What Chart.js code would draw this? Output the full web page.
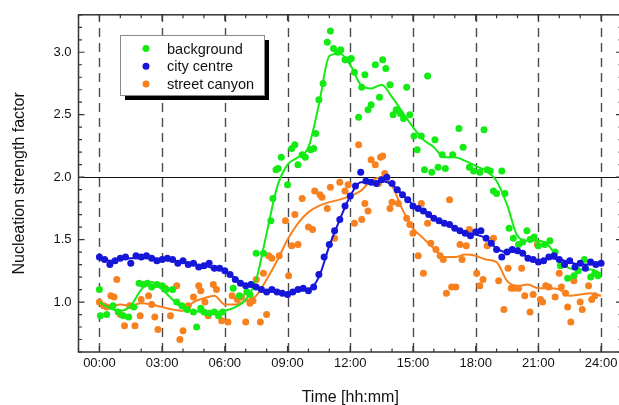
<!DOCTYPE html>
<html>
<head>
<meta charset="utf-8">
<script src="https://cdn.jsdelivr.net/npm/chart.js@4.4.1/dist/chart.umd.min.js"></script>
<style>
  html, body { margin: 0; padding: 0; overflow: hidden; background: #fff; }
  canvas { display: block; }
</style>
</head>
<body>
<canvas id="myChart" width="640" height="405"></canvas>
<script>
// axis ticks
const xTickValues = [0, 3, 6, 9, 12, 15, 18, 21, 24];
const xTickLabels = ["00:00", "03:00", "06:00", "09:00", "12:00", "15:00", "18:00", "21:00", "24:00"];
const yTickValues = [1.0, 1.5, 2.0, 2.5, 3.0];
const yTickLabels = ["1.0", "1.5", "2.0", "2.5", "3.0"];
const seriesNames = ["background", "city centre", "street canyon"];

// background (green) measurements
const bgHours = [0.0, 0.05, 0.35, 0.65, 0.9, 1.15, 1.4, 1.65, 1.9, 2.1, 2.3, 2.5, 2.75, 3.0, 3.2, 3.5, 3.7, 3.95, 4.2, 4.5,
  4.65, 4.85, 5.0, 5.25, 5.5, 5.7, 5.9, 6.4, 6.7, 7.05, 7.2, 7.5, 7.85, 8.2, 8.3, 8.45, 8.55, 8.7, 9.0, 9.2,
  9.35, 9.5, 9.7, 9.85, 10.1, 10.25, 10.35, 10.5, 10.7, 10.9, 11.05, 11.2, 11.4, 11.55, 11.75, 11.9, 12.05, 12.2, 12.4, 12.55,
  12.7, 12.85, 13.0, 13.2, 13.4, 13.55, 13.7, 13.9, 14.05, 14.2, 14.4, 14.55, 14.7, 14.85, 15.05, 15.2, 15.4, 15.55, 15.7, 15.9,
  16.05, 16.2, 16.4, 16.55, 16.9, 17.2, 17.4, 17.7, 17.9, 18.2, 18.4, 18.55, 18.7, 18.85, 19.0, 19.25, 19.4, 19.6, 19.8, 20.05,
  20.25, 20.45, 20.6, 20.8, 21.0, 21.3, 21.55, 21.8, 22.05, 22.4, 22.7, 22.9, 23.2, 23.5, 23.7, 23.85];
const bgValues = [1.10, 0.89, 0.90, 0.97, 0.92, 0.89, 0.88, 0.96, 1.15, 1.14, 1.15, 1.12, 1.14, 1.13, 1.10, 1.10, 1.00, 0.97, 0.94, 0.92,
  0.80, 0.95, 0.92, 0.91, 0.92, 0.89, 0.92, 1.11, 1.05, 1.08, 1.06, 1.39, 1.39, 1.65, 1.83, 2.06, 2.07, 2.16, 1.94, 2.23,
  2.26, 2.10, 2.18, 2.16, 2.22, 2.23, 2.35, 2.62, 2.75, 3.08, 3.17, 3.03, 3.00, 3.02, 2.94, 2.94, 2.95, 2.84, 2.48, 2.72,
  2.82, 2.54, 2.58, 2.90, 2.64, 2.94, 2.87, 2.74, 2.50, 2.54, 2.51, 2.47, 2.72, 2.50, 2.33, 2.22, 2.33, 2.06, 2.81, 2.04,
  2.30, 2.08, 2.18, 2.07, 2.18, 2.39, 2.24, 2.08, 2.05, 2.04, 2.38, 2.06, 2.05, 1.89, 1.87, 2.05, 1.87, 1.59, 1.51, 1.46,
  1.48, 1.57, 1.50, 1.52, 1.45, 1.46, 1.49, 1.40, 1.29, 1.19, 1.21, 1.25, 1.34, 1.20, 1.23, 1.21];

// city centre (blue) measurements
const ccHours = [0, 0.25, 0.5, 0.75, 1, 1.25, 1.5, 1.75, 2, 2.25, 2.5, 2.75, 3, 3.25, 3.5, 3.75, 4, 4.25, 4.5, 4.75,
  5, 5.25, 5.5, 5.75, 6, 6.25, 6.5, 6.75, 7, 7.25, 7.5, 7.75, 8, 8.25, 8.5, 8.75, 9, 9.25, 9.5, 9.75,
  10, 10.25, 10.5, 10.75, 11, 11.25, 11.5, 11.75, 12, 12.25, 12.5, 12.75, 13, 13.25, 13.5, 13.75, 14, 14.25, 14.5, 14.75,
  15, 15.25, 15.5, 15.75, 16, 16.25, 16.5, 16.75, 17, 17.25, 17.5, 17.75, 18, 18.25, 18.5, 18.75, 19, 19.25, 19.5, 19.75,
  20, 20.25, 20.5, 20.75, 21, 21.25, 21.5, 21.75, 22, 22.25, 22.5, 22.75, 23, 23.25, 23.5, 23.75, 24];
const ccValues = [1.36, 1.34, 1.30, 1.33, 1.35, 1.36, 1.31, 1.37, 1.36, 1.37, 1.35, 1.33, 1.34, 1.35, 1.34, 1.31, 1.33, 1.30, 1.31, 1.28,
  1.29, 1.31, 1.27, 1.27, 1.25, 1.22, 1.18, 1.15, 1.13, 1.14, 1.12, 1.10, 1.08, 1.10, 1.08, 1.07, 1.06, 1.08, 1.10, 1.11,
  1.09, 1.12, 1.22, 1.36, 1.46, 1.57, 1.66, 1.77, 1.85, 1.93, 2.04, 1.97, 1.96, 1.95, 1.98, 2.00, 1.95, 1.90, 1.86, 1.82,
  1.77, 1.75, 1.73, 1.70, 1.67, 1.65, 1.63, 1.62, 1.59, 1.57, 1.55, 1.53, 1.56, 1.57, 1.51, 1.47, 1.42, 1.36, 1.40, 1.42,
  1.41, 1.39, 1.35, 1.34, 1.32, 1.33, 1.36, 1.37, 1.34, 1.30, 1.33, 1.28, 1.31, 1.27, 1.32, 1.30, 1.31];

// street canyon (orange) measurements
const scHours = [0.0, 0.2, 0.35, 0.55, 0.7, 0.83, 1.0, 1.2, 1.45, 1.7, 1.95, 2.0, 2.35, 2.5, 2.65, 2.8, 3.15, 3.4, 3.7, 3.85,
  4.0, 4.25, 4.5, 4.75, 4.85, 5.05, 5.2, 5.45, 5.6, 5.85, 6.15, 6.35, 6.6, 6.8, 7.0, 7.2, 7.35, 7.5, 7.7, 7.85,
  8.0, 8.1, 8.25, 8.6, 8.9, 9.05, 9.2, 9.35, 9.5, 9.7, 10.0, 10.2, 10.3, 10.55, 10.65, 10.9, 11.05, 11.25, 11.5, 11.75,
  11.9, 12.2, 12.4, 12.55, 12.7, 12.85, 13.0, 13.2, 13.35, 13.45, 13.55, 13.65, 13.9, 14.0, 14.3, 14.7, 14.85, 15.0, 15.25, 15.4,
  15.5, 15.7, 15.85, 16.1, 16.3, 16.45, 16.6, 16.75, 16.85, 17.05, 17.25, 17.35, 17.55, 17.7, 18.05, 18.2, 18.35, 18.55, 18.85, 19.1,
  19.35, 19.55, 19.7, 19.85, 20.05, 20.2, 20.35, 20.6, 20.75, 20.95, 21.1, 21.2, 21.35, 21.5, 21.8, 22.0, 22.1, 22.3, 22.4, 22.55,
  22.7, 23.0, 23.1, 23.4, 23.55, 23.7];
const scValues = [1.00, 0.97, 0.96, 1.05, 1.04, 1.18, 0.90, 0.81, 0.97, 0.81, 0.89, 1.02, 1.05, 0.98, 0.88, 0.78, 1.11, 0.89, 1.13, 0.70,
  0.77, 0.97, 1.04, 1.13, 1.09, 1.00, 0.89, 1.14, 1.10, 0.85, 0.84, 1.05, 1.02, 1.04, 0.84, 0.99, 1.01, 1.18, 0.84, 1.23,
  0.90, 1.37, 1.35, 1.37, 1.65, 1.21, 1.45, 1.70, 1.46, 1.83, 1.60, 1.58, 1.89, 1.86, 1.84, 1.75, 1.92, 1.51, 1.96, 1.89,
  1.94, 1.63, 2.26, 1.66, 1.79, 1.73, 2.14, 2.10, 1.95, 2.16, 2.17, 2.03, 1.75, 1.80, 1.79, 1.67, 1.62, 1.55, 1.37, 1.79,
  1.23, 1.63, 1.47, 1.42, 1.37, 1.34, 1.07, 1.82, 1.12, 1.12, 1.46, 1.34, 1.45, 1.58, 1.23, 1.13, 1.18, 1.45, 1.51, 1.17,
  0.94, 1.27, 1.11, 1.11, 1.11, 1.27, 1.05, 0.92, 1.06, 1.46, 1.02, 1.00, 1.13, 1.12, 1.04, 1.23, 1.12, 1.07, 0.96, 0.84,
  1.17, 1.00, 0.94, 1.13, 1.02, 1.05];

// smoothed curves, sampled every half hour
const lineHours = [0, 0.5, 1, 1.5, 2, 2.5, 3, 3.5, 4, 4.5, 5, 5.5, 6, 6.5, 7, 7.5, 8, 8.5, 9, 9.5,
  10, 10.5, 11, 11.5, 12, 12.5, 13, 13.5, 14, 14.5, 15, 15.5, 16, 16.5, 17, 17.5, 18, 18.5, 19, 19.5,
  20, 20.5, 21, 21.5, 22, 22.5, 23, 23.5, 24];
const bgLine = [1.00, 0.95, 0.93, 0.97, 1.10, 1.16, 1.10, 1.02, 0.95, 0.93, 0.92, 0.92, 0.93, 0.96, 1.02, 1.18, 1.55, 1.92, 2.10, 2.16,
  2.24, 2.58, 2.97, 2.99, 2.90, 2.74, 2.71, 2.74, 2.64, 2.52, 2.40, 2.30, 2.24, 2.16, 2.16, 2.13, 2.09, 2.05, 1.97, 1.78,
  1.53, 1.49, 1.49, 1.45, 1.33, 1.27, 1.26, 1.26, 1.23];
const ccLine = [1.34, 1.33, 1.34, 1.35, 1.35, 1.35, 1.34, 1.33, 1.32, 1.30, 1.29, 1.27, 1.25, 1.19, 1.14, 1.12, 1.09, 1.08, 1.07, 1.09,
  1.10, 1.20, 1.45, 1.66, 1.85, 1.96, 1.96, 1.97, 1.94, 1.86, 1.78, 1.73, 1.67, 1.63, 1.59, 1.55, 1.54, 1.51, 1.43, 1.40,
  1.40, 1.36, 1.33, 1.35, 1.34, 1.32, 1.30, 1.30, 1.31];
const scLine = [1.00, 0.97, 0.98, 0.97, 0.99, 0.98, 0.96, 0.94, 0.93, 1.00, 1.03, 1.05, 0.98, 0.98, 1.01, 1.05, 1.18, 1.33, 1.50, 1.63,
  1.72, 1.77, 1.80, 1.82, 1.85, 1.89, 1.97, 2.00, 1.93, 1.74, 1.59, 1.51, 1.43, 1.36, 1.36, 1.38, 1.37, 1.34, 1.32, 1.17,
  1.13, 1.14, 1.11, 1.11, 1.10, 1.05, 1.06, 1.07, 1.05];

const referenceLevel = 2.0;

const GREEN = "#14ea14";
const BLUE = "#1616d8";
const ORANGE = "#f7811f";
const colours = [GREEN, BLUE, ORANGE];

function pairs(xs, ys) {
  return xs.map((x, i) => ({ x: x, y: ys[i] }));
}

function pointSet(label, xs, ys, colour) {
  return {
    label: label,
    data: pairs(xs, ys),
    backgroundColor: colour,
    borderWidth: 0,
    pointRadius: 3.5,
    showLine: false,
  };
}

function lineSet(xs, ys, colour) {
  return {
    label: "",
    data: pairs(xs, ys),
    borderColor: colour,
    borderWidth: 2,
    pointRadius: 0,
    showLine: true,
    cubicInterpolationMode: "monotone",
    fill: false,
  };
}

// dashed time lines, 2.0 reference, frame with inward ticks
const framePlugin = {
  id: "frame",
  beforeDatasetsDraw(chart) {
    const { ctx, chartArea: a, scales: { x, y } } = chart;
    ctx.save();
    ctx.strokeStyle = "#4a4a4a";
    ctx.lineWidth = 1.4;
    ctx.setLineDash([9, 6]);
    xTickValues.forEach((v) => {
      const px = Math.round(x.getPixelForValue(v)) + 0.5;
      ctx.beginPath();
      ctx.moveTo(px, a.bottom);
      ctx.lineTo(px, a.top);
      ctx.stroke();
    });
    ctx.setLineDash([]);
    ctx.strokeStyle = "#111";
    ctx.lineWidth = 1;
    const py = Math.round(y.getPixelForValue(referenceLevel)) + 0.5;
    ctx.beginPath();
    ctx.moveTo(a.left, py);
    ctx.lineTo(a.right, py);
    ctx.stroke();
    ctx.restore();
  },
  afterDatasetsDraw(chart) {
    const { ctx, chartArea: a, scales: { x, y } } = chart;
    ctx.save();
    ctx.strokeStyle = "#333";
    ctx.lineWidth = 1.5;
    ctx.strokeRect(a.left, a.top, a.right - a.left, a.bottom - a.top);
    ctx.lineWidth = 1.2;
    ctx.beginPath();
    for (let h = Math.ceil(x.min); h <= x.max; h++) {
      const px = x.getPixelForValue(h);
      const len = h % 3 === 0 ? 6 : 3.5;
      ctx.moveTo(px, a.bottom); ctx.lineTo(px, a.bottom - len);
      ctx.moveTo(px, a.top); ctx.lineTo(px, a.top + len);
    }
    for (let k = Math.ceil(y.min * 10); k <= Math.floor(y.max * 10); k++) {
      const py = y.getPixelForValue(k / 10);
      const len = k % 5 === 0 ? 6 : 3.5;
      ctx.moveTo(a.left, py); ctx.lineTo(a.left + len, py);
      ctx.moveTo(a.right, py); ctx.lineTo(a.right - len, py);
    }
    ctx.stroke();

    // legend box with drop shadow
    const bx = 120, by = 35, bw = 144, bh = 60;
    ctx.fillStyle = "#000";
    ctx.fillRect(bx + 5, by + 5, bw, bh);
    ctx.fillStyle = "#fff";
    ctx.fillRect(bx, by, bw, bh);
    ctx.strokeStyle = "#8a8a8a";
    ctx.lineWidth = 1;
    ctx.strokeRect(bx + 0.5, by + 0.5, bw, bh);
    ctx.font = "14.5px 'Liberation Sans', Arial, sans-serif";
    ctx.textBaseline = "middle";
    seriesNames.forEach((name, i) => {
      const ly = by + 13.5 + i * 17.8;
      ctx.fillStyle = colours[i];
      ctx.beginPath();
      ctx.arc(bx + 26, ly, 3.5, 0, Math.PI * 2);
      ctx.fill();
      ctx.fillStyle = "#111";
      ctx.fillText(name, bx + 47, ly + 1);
    });
    ctx.restore();
  },
};

function chartJs() {
  const ctx = document.getElementById("myChart");
  Chart.defaults.font.family = "'Liberation Sans', Arial, sans-serif";
  Chart.defaults.color = "#111";

  new Chart(ctx, {
    type: "scatter",
    data: {
      datasets: [
        pointSet(seriesNames[1], ccHours, ccValues, BLUE),
        lineSet(lineHours, ccLine, BLUE),
        pointSet(seriesNames[0], bgHours, bgValues, GREEN),
        lineSet(lineHours, bgLine, GREEN),
        pointSet(seriesNames[2], scHours, scValues, ORANGE),
        lineSet(lineHours, scLine, ORANGE),
      ],
    },
    options: {
      responsive: false,
      animation: false,
      devicePixelRatio: 1,
      layout: { padding: { top: 14, right: 18, left: 0, bottom: 0 } },
      plugins: { legend: { display: false }, tooltip: { enabled: false } },
      scales: {
        x: {
          type: "linear",
          min: -1,
          max: 25,
          afterBuildTicks: (s) => { s.ticks = xTickValues.map((v) => ({ value: v })); },
          afterFit: (s) => { s.height = 53; },
          grid: { display: false, drawTicks: false },
          border: { display: false },
          ticks: {
            autoSkip: false,
            maxRotation: 0,
            padding: 4,
            font: { size: 13 },
            callback: (v, i) => xTickLabels[i],
          },
          title: {
            display: true,
            text: "Time [hh:mm]",
            font: { size: 16 },
            padding: { top: 0, bottom: -2 },
          },
        },
        y: {
          min: 0.6,
          max: 3.3,
          afterBuildTicks: (s) => { s.ticks = yTickValues.map((v) => ({ value: v })); },
          afterFit: (s) => { s.width = 78.5; },
          grid: { display: false, drawTicks: false },
          border: { display: false },
          ticks: {
            padding: 7,
            font: { size: 13 },
            callback: (v, i) => yTickLabels[i],
          },
          title: {
            display: true,
            text: "Nucleation strength factor",
            font: { size: 16 },
            padding: { top: 10, bottom: 0 },
          },
        },
      },
    },
    plugins: [framePlugin],
  });
}

chartJs();
</script>
</body>
</html>
